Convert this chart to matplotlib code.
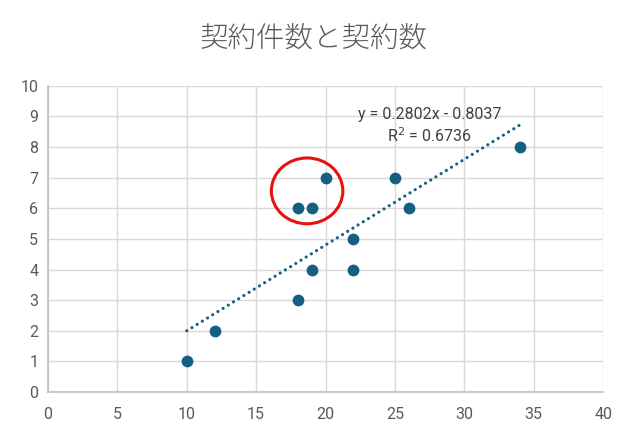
import numpy as np
import matplotlib.pyplot as plt
from matplotlib.patches import Ellipse

plt.rcParams['font.family'] = ['Noto Sans CJK JP', 'DejaVu Sans']

# 契約件数 (x) と 契約数 (y)
contracts_cases = [10, 12, 18, 19, 22, 22, 18, 19, 20, 25, 26, 34]
contracts = [1, 2, 3, 4, 4, 5, 6, 6, 7, 7, 6, 8]
slope = 0.2802
intercept = -0.8037
r2 = 0.6736

x_ticks = [0, 5, 10, 15, 20, 25, 30, 35, 40]
y_ticks = list(range(0, 11))

point_color = '#156082'
text_color = '#595959'
num_font = ['Roboto', 'DejaVu Sans']

fig = plt.figure(figsize=(6.28, 4.36), dpi=100)
ax = fig.add_axes([0.0764, 0.101, 0.884, 0.702])

# grid
ax.set_axisbelow(True)
ax.grid(True, color='#d9d9d9', linewidth=1.0)

# trendline
xs = np.array([min(contracts_cases), max(contracts_cases)])
ax.plot(xs, slope * xs + intercept, linestyle=(0, (0.01, 1.9)), linewidth=2.3,
        color=point_color, dash_capstyle='round', zorder=2)

# points
ax.scatter(contracts_cases, contracts, s=72, color=point_color, zorder=3,
           linewidths=0)

# red circle highlight
ax.add_patch(Ellipse((18.67, 6.57), 5.15, 2.15, fill=False, edgecolor='#e81010',
                     linewidth=2.2, zorder=4))

# trendline equation
ax.text(27.5, 9.05, f'y = {slope:.4f}x - {abs(intercept):.4f}', ha='center',
        va='center', fontsize=11.5, color='#404040', family=num_font)
ax.text(27.5, 8.37, f'R$^2$ = {r2:.4f}', ha='center', va='center',
        fontsize=11.5, color='#404040', family=num_font)

ax.set_xlim(0, 40)
ax.set_ylim(0, 10)
ax.set_xticks(x_ticks)
ax.set_yticks(y_ticks)
ax.tick_params(length=0, labelsize=11.5, colors=text_color, pad=7)
ax.tick_params(axis='x', pad=11)
for lbl in ax.get_xticklabels() + ax.get_yticklabels():
    lbl.set_family(num_font)

for side in ['top', 'right']:
    ax.spines[side].set_visible(False)
for side in ['left', 'bottom']:
    ax.spines[side].set_color('#bfbfbf')
    ax.spines[side].set_linewidth(1.2)

fig.text(0.5, 0.912, '契約件数と契約数', ha='center', va='center',
         fontsize=20.5, color=text_color, fontweight='light')

fig.savefig('out.png', dpi=100)
